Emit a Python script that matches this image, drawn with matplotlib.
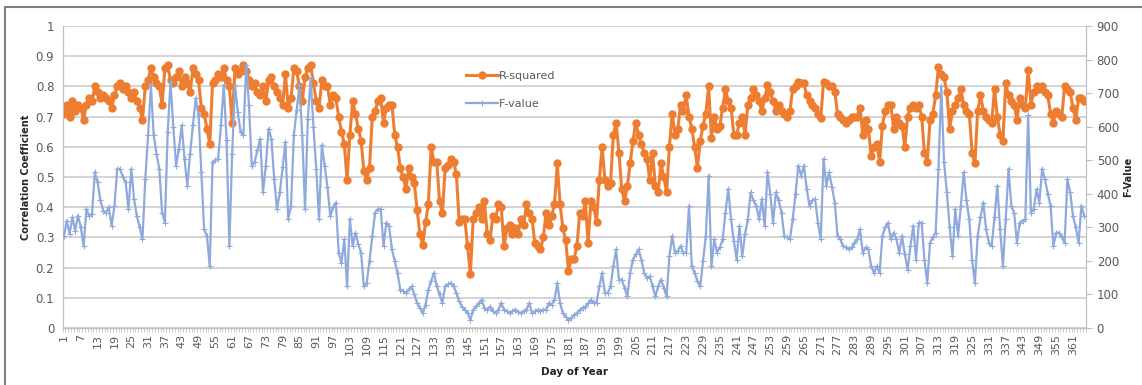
import matplotlib
matplotlib.use("Agg")
import matplotlib.pyplot as plt
from matplotlib.patches import Rectangle
from matplotlib.lines import Line2D

# Day-of-year correlation results
days = list(range(1, 366))

r_squared = [
    0.71, 0.74, 0.70, 0.75, 0.72, 0.74, 0.73, 0.69, 0.74, 0.76,
    0.75, 0.80, 0.78, 0.76, 0.77, 0.76, 0.75, 0.73, 0.77, 0.80,
    0.81, 0.79, 0.80, 0.78, 0.76, 0.78, 0.75, 0.73, 0.69, 0.80,
    0.82, 0.86, 0.83, 0.81, 0.80, 0.74, 0.86, 0.87, 0.82, 0.81,
    0.83, 0.85, 0.80, 0.83, 0.81, 0.78, 0.86, 0.84, 0.82, 0.73,
    0.71, 0.66, 0.61, 0.81, 0.82, 0.84, 0.83, 0.86, 0.82, 0.80,
    0.68, 0.86, 0.84, 0.85, 0.87, 0.85, 0.82, 0.80, 0.81, 0.78,
    0.77, 0.80, 0.75, 0.82, 0.83, 0.80, 0.78, 0.76, 0.74, 0.84,
    0.73, 0.76, 0.86, 0.85, 0.80, 0.75, 0.83, 0.86, 0.87, 0.81,
    0.75, 0.73, 0.82, 0.80, 0.80, 0.74, 0.77, 0.76, 0.70, 0.65,
    0.61, 0.49, 0.64, 0.75, 0.71, 0.66, 0.62, 0.52, 0.49, 0.53,
    0.70, 0.72, 0.75, 0.76, 0.68, 0.73, 0.74, 0.74, 0.64, 0.60,
    0.53, 0.50, 0.46, 0.53, 0.50, 0.48, 0.39, 0.31, 0.275, 0.35,
    0.41, 0.60, 0.55, 0.55, 0.42, 0.38, 0.53, 0.54, 0.56, 0.55,
    0.51, 0.35, 0.36, 0.36, 0.27, 0.18, 0.36, 0.38, 0.40, 0.36,
    0.42, 0.31, 0.29, 0.37, 0.36, 0.41, 0.40, 0.27, 0.33, 0.34,
    0.31, 0.33, 0.31, 0.36, 0.34, 0.41, 0.38, 0.36, 0.28, 0.27,
    0.26, 0.30, 0.38, 0.34, 0.37, 0.41, 0.545, 0.41, 0.33, 0.29,
    0.19, 0.23, 0.23, 0.27, 0.38, 0.37, 0.42, 0.28, 0.42, 0.40,
    0.35, 0.49, 0.60, 0.49, 0.47, 0.48, 0.64, 0.68, 0.58, 0.46,
    0.42, 0.47, 0.545, 0.62, 0.68, 0.64, 0.61, 0.58, 0.56, 0.49,
    0.58, 0.47, 0.45, 0.545, 0.50, 0.45, 0.60, 0.71, 0.64, 0.66,
    0.74, 0.72, 0.77, 0.70, 0.66, 0.60, 0.53, 0.62, 0.67, 0.71,
    0.80, 0.63, 0.70, 0.66, 0.67, 0.73, 0.79, 0.75, 0.73, 0.64,
    0.64, 0.68, 0.70, 0.64, 0.74, 0.76, 0.79, 0.77, 0.75, 0.72,
    0.76, 0.805, 0.78, 0.75, 0.72, 0.74, 0.72, 0.71, 0.70, 0.72,
    0.79, 0.80, 0.815, 0.81, 0.81, 0.77, 0.75, 0.74, 0.73, 0.71,
    0.695, 0.815, 0.81, 0.80, 0.80, 0.78, 0.71, 0.70, 0.69, 0.68,
    0.69, 0.70, 0.70, 0.70, 0.73, 0.64, 0.69, 0.66, 0.57, 0.60,
    0.61, 0.55, 0.67, 0.72, 0.74, 0.74, 0.66, 0.70, 0.68, 0.67,
    0.60, 0.70, 0.73, 0.74, 0.73, 0.74, 0.70, 0.58, 0.55, 0.69,
    0.71, 0.77, 0.865, 0.84, 0.83, 0.78, 0.66, 0.72, 0.74, 0.76,
    0.79, 0.74, 0.72, 0.71, 0.58, 0.545, 0.72, 0.77, 0.72, 0.70,
    0.69, 0.68, 0.79, 0.70, 0.64, 0.62, 0.81, 0.77, 0.75, 0.74,
    0.69, 0.76, 0.74, 0.73, 0.855, 0.74, 0.78, 0.80, 0.79, 0.80,
    0.78, 0.77, 0.71, 0.68, 0.72, 0.71, 0.70, 0.80, 0.79, 0.78,
    0.73, 0.69, 0.76, 0.76, 0.75,
]

f_value = [
    274, 320, 280, 330, 290, 335, 300, 244, 354, 334,
    340, 464, 434, 380, 350, 344, 360, 304, 364, 474,
    474, 450, 434, 354, 474, 384, 334, 300, 264, 444,
    574, 724, 574, 520, 474, 344, 314, 584, 734, 600,
    484, 534, 604, 504, 424, 520, 604, 684, 634, 464,
    294, 274, 184, 494, 500, 504, 604, 724, 560, 244,
    520, 724, 644, 584, 574, 784, 664, 484, 494, 530,
    564, 404, 484, 594, 564, 444, 354, 404, 480, 554,
    324, 364, 574, 650, 724, 574, 354, 624, 744, 600,
    474, 324, 544, 484, 420, 334, 360, 374, 224, 194,
    264, 124, 324, 244, 284, 250, 224, 124, 134, 200,
    274, 344, 354, 354, 244, 314, 304, 234, 200, 164,
    114, 110, 104, 115, 124, 100, 74, 60, 44, 70,
    114, 140, 164, 124, 100, 74, 124, 130, 134, 124,
    104, 80, 64, 55, 44, 24, 54, 65, 74, 84,
    60, 54, 64, 50, 44, 55, 74, 54, 50, 44,
    50, 55, 48, 44, 50, 55, 74, 44, 50, 54,
    50, 54, 54, 74, 70, 84, 134, 74, 44, 34,
    24, 30, 40, 44, 54, 60, 64, 74, 84, 74,
    74, 124, 164, 104, 104, 124, 184, 234, 144, 144,
    120, 94, 164, 204, 220, 234, 204, 164, 150, 154,
    124, 94, 124, 144, 120, 94, 214, 274, 224, 230,
    244, 224, 224, 364, 184, 164, 140, 124, 200, 274,
    454, 184, 264, 224, 240, 264, 344, 414, 324, 260,
    204, 304, 214, 280, 324, 404, 380, 364, 324, 384,
    304, 464, 400, 314, 404, 380, 344, 274, 270, 264,
    324, 400, 484, 454, 484, 414, 364, 380, 384, 314,
    264, 504, 424, 464, 420, 374, 274, 264, 244, 240,
    234, 240, 254, 264, 294, 224, 240, 234, 184, 164,
    184, 164, 274, 300, 314, 264, 284, 264, 224, 274,
    220, 174, 244, 304, 204, 314, 314, 204, 134, 254,
    270, 284, 474, 720, 494, 404, 300, 214, 354, 274,
    364, 464, 380, 324, 204, 134, 274, 330, 374, 294,
    254, 244, 330, 424, 294, 184, 324, 474, 364, 344,
    254, 314, 320, 324, 634, 344, 354, 414, 374, 474,
    444, 400, 364, 244, 284, 284, 270, 254, 444, 404,
    334, 300, 254, 364, 334,
]

x_ticks = list(range(1, 366, 6))
r_ticks = [0, 0.1, 0.2, 0.3, 0.4, 0.5, 0.6, 0.7, 0.8, 0.9, 1]
f_ticks = list(range(0, 901, 100))

ORANGE = "#ED7D31"
BLUE = "#8EA9DB"
GRID = "#C8C8C8"
TXT = "#595959"

fig = plt.figure(figsize=(11.42, 3.85), dpi=100)
ax = fig.add_axes([62.6 / 1142, 1 - 328 / 385, 1023 / 1142, 302 / 385])
ax2 = ax.twinx()

ax.plot(days, r_squared, color=ORANGE, lw=2.2, marker="o", markersize=6,
        markeredgewidth=0, label="R-squared", zorder=3)
ax2.plot(days, f_value, color=BLUE, lw=1.6, marker="+", markersize=5,
         markeredgewidth=0.8, label="F-value", zorder=3)

ax.set_xlim(0.5, 365.5)
ax.set_ylim(0, 1)
ax2.set_ylim(0, 900)
ax.set_yticks(r_ticks)
ax.set_yticklabels([f"{t:g}" for t in r_ticks])
ax2.set_yticks(f_ticks)
ax.set_xticks(x_ticks)
ax.set_xticklabels([str(d) for d in x_ticks], rotation=90)
ax.set_xticks([d + 0.5 for d in range(0, 366)], minor=True)

ax.grid(axis="y", color=GRID, lw=1.1)
ax.set_axisbelow(True)

for a in (ax, ax2):
    a.spines["top"].set_visible(False)
    for side in ("left", "right", "bottom"):
        a.spines[side].set_color("#BFBFBF")

ax.tick_params(axis="y", length=0, labelsize=8.5, labelcolor=TXT, pad=6)
ax.tick_params(axis="x", which="major", length=0, labelsize=8, labelcolor=TXT, pad=4)
ax.tick_params(axis="x", which="minor", length=3, color="#BFBFBF")
ax2.tick_params(axis="y", length=4, color="#BFBFBF", labelsize=8.5, labelcolor=TXT, pad=4)

ax.set_ylabel("Correlation Coefficient", fontsize=7, fontweight="bold", color="#262626", labelpad=3)
ax2.set_ylabel("F-Value", fontsize=7, fontweight="bold", color="#262626", labelpad=3)
ax.set_xlabel("Day of Year", fontsize=7.5, fontweight="bold", color="#262626", labelpad=9)

handles = [
    Line2D([], [], color=ORANGE, lw=2.2, marker="o", markersize=6, markeredgewidth=0),
    Line2D([], [], color=BLUE, lw=1.6, marker="+", markersize=5, markeredgewidth=0.8),
]
ax2.legend(handles, ["R-squared", "F-value"], loc="upper left",
           bbox_to_anchor=(0.385, 0.885), frameon=False, fontsize=8,
           labelcolor=TXT, handlelength=2.8, handletextpad=0.1, labelspacing=1.6)

# outer chart-area border
fig.patches.append(Rectangle((5 / 1142, -0.2), 1.2, 1.2 - 7 / 385,
                             transform=fig.transFigure, fill=False,
                             edgecolor="#808080", lw=1.5, zorder=0))

fig.savefig("out.png", dpi=100)
